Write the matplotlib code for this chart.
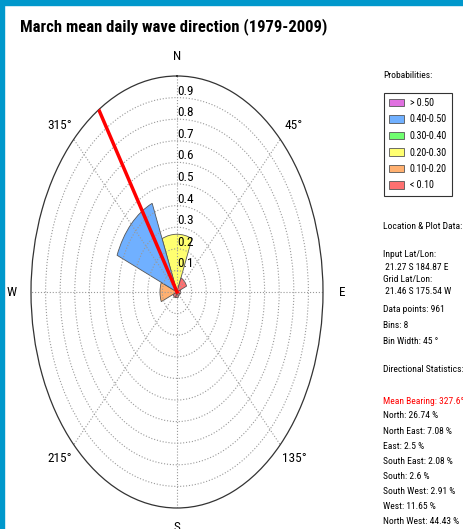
import matplotlib
matplotlib.use("Agg")
import matplotlib.pyplot as plt
import matplotlib.patches as mpatches
from matplotlib import font_manager
import numpy as np

#######################################
#### Data
#######################################
title = "March mean daily wave direction (1979-2009)"
dir_names = ["North", "North East", "East", "South East",
             "South", "South West", "West", "North West"]
bin_centres = [0, 45, 90, 135, 180, 225, 270, 315]        # deg
probs = [26.74, 7.08, 2.5, 2.08, 2.6, 2.91, 11.65, 44.43]  # %
mean_bearing = 327.6
bin_width = 45

theta_ticks = [0, 45, 90, 135, 180, 225, 270, 315]
theta_labels = ["N", "45°", "E", "135°", "S", "215°", "W", "315°"]
r_ticks = [0.1, 0.2, 0.3, 0.4, 0.5, 0.6, 0.7, 0.8, 0.9]

leg_labels = ["> 0.50", "0.40-0.50", "0.30-0.40", "0.20-0.30", "0.10-0.20", "< 0.10"]
leg_colors = ["#e070e0", "#70b0ff", "#70ff70", "#ffff70", "#ffb070", "#ff7070"]
leg_bounds = [0.5, 0.4, 0.3, 0.2, 0.1, 0.0]

info_lines = ["Input Lat/Lon:", " 21.27 S 184.87 E", "Grid Lat/Lon:", " 21.46 S 175.54 W"]
data_points = 961

#######################################
#### Plot
#######################################
names = set(f.name for f in font_manager.fontManager.ttflist)
fam = [n for n in ['Liberation Sans Narrow', 'Roboto Condensed', 'DejaVu Sans Condensed',
                   'Open Sans Condensed', 'Roboto'] if n in names]
plt.rcParams['font.family'] = fam + ['DejaVu Sans']

W, H = 463, 529
fig = plt.figure(figsize=(W / 100, H / 100), dpi=100)

# blue frame on the left / top
fig.patches.append(mpatches.Rectangle((0, 0), 4 / W, 1, transform=fig.transFigure,
                                      color="#0098cc", zorder=0))
fig.patches.append(mpatches.Rectangle((0, 1 - 5 / H), 1, 5 / H, transform=fig.transFigure,
                                      color="#0098cc", zorder=0))

fig.text(20 / W, 1 - 27 / H, title, fontsize=12, fontweight='bold', va='center', ha='left')

ax = fig.add_axes([31 / W, 21 / H, 292 / W, 432 / H], projection='polar')
ax.set_aspect('auto')
ax.set_theta_zero_location('N')
ax.set_theta_direction(-1)

r = np.array(probs) / 100.0
cols = []
for v in r:
   for b, c in zip(leg_bounds, leg_colors):
      if v >= b:
         cols.append(c)
         break
ax.bar(np.radians(bin_centres), r, width=np.radians(bin_width), color=cols,
       edgecolor='#555555', linewidth=0.6, zorder=1)

ax.plot([np.radians(mean_bearing)] * 2, [0, 1.0], color='red', lw=2.5, zorder=3)

ax.set_ylim(0, 1.0)
ax.set_rgrids(r_ticks, labels=[str(v) for v in r_ticks], angle=0, fontsize=9.5)
ax.set_thetagrids(theta_ticks, labels=theta_labels, fontsize=9.5)
ax.tick_params(axis='x', pad=3.5)
ax.grid(True, linestyle=':', color='#999999', linewidth=0.8, zorder=1.5)
ax.spines['polar'].set_linewidth(0.9)
ax.spines['polar'].set_color('#333333')
for lb in ax.get_yticklabels():
   lb.set_zorder(4)

# right hand side annotation
tx = 383 / W
fs = 6.8
fig.text(tx, 1 - 75 / H, "Probabilities:", fontsize=fs, va='center')
handles = [mpatches.Patch(facecolor=c, edgecolor='#555555', linewidth=0.6) for c in leg_colors]
leg = fig.legend(handles, leg_labels, loc='upper left', bbox_to_anchor=(384 / W, 1 - 93 / H),
                 fontsize=7.2, frameon=True, fancybox=False, borderaxespad=0,
                 handlelength=1.5, handleheight=0.75, labelspacing=0.65, borderpad=0.5,
                 handletextpad=0.6)
leg.get_frame().set_edgecolor('black')
leg.get_frame().set_linewidth(0.8)

fig.text(tx, 1 - 226 / H, "Location & Plot Data:", fontsize=fs, va='center')
y = 255
for ln in info_lines:
   fig.text(tx, 1 - y / H, ln, fontsize=fs, va='center')
   y += 12.2
fig.text(tx, 1 - 310 / H, "Data points: %d" % data_points, fontsize=fs, va='center')
fig.text(tx, 1 - 325 / H, "Bins: %d" % len(bin_centres), fontsize=fs, va='center')
fig.text(tx, 1 - 341 / H, "Bin Width: %d °" % bin_width, fontsize=fs, va='center')

fig.text(tx, 1 - 370 / H, "Directional Statistics:", fontsize=fs, va='center')
fig.text(tx, 1 - 401 / H, "Mean Bearing: %.1f°" % mean_bearing, fontsize=fs, va='center', color='red')
y = 416
for nm, p in zip(dir_names, probs):
   fig.text(tx, 1 - y / H, "%s: %s %%" % (nm, ('%.2f' % p).rstrip('0').rstrip('.')), fontsize=fs, va='center')
   y += 15.1

fig.savefig("out.png", dpi=100)
